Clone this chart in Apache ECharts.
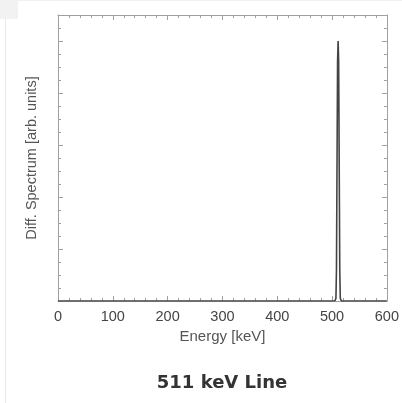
<!DOCTYPE html>
<html><head><meta charset="utf-8">
<script src="https://cdn.jsdelivr.net/npm/echarts@6/dist/echarts.min.js"></script>
<style>html,body{margin:0;padding:0;background:#fff}#c{width:402px;height:403px}</style>
</head><body><div id="c"></div>
<script>
const energy = [0, 100, 200, 300, 400, 500, 505, 507, 508, 509, 510, 511, 512, 513, 514, 515, 517, 520, 600];
const counts = [0, 0, 0, 0, 0, 0, 0, 0.05, 0.6, 2.6, 4.6, 5.0, 4.6, 2.6, 0.6, 0.05, 0, 0, 0];
const xTicks = [0, 100, 200, 300, 400, 500, 600];
const title = '511 keV Line';

const axisGray = '#a0a0a0';
const chart = echarts.init(document.getElementById('c'), null, {renderer: 'canvas'});
const tickCommon = {show: true, inside: true, length: 5, lineStyle: {color: axisGray, width: 1}};
const minorCommon = {show: true, length: 3, lineStyle: {color: axisGray, width: 1}};
const lineCommon = {show: true, onZero: false, lineStyle: {color: axisGray, width: 1}};
chart.setOption({
  animation: false,
  backgroundColor: '#fff',
  title: {
    text: title, left: 217, top: 369, textAlign: 'center',
    textStyle: {fontFamily: 'DejaVu Sans', fontWeight: 'bold', fontSize: 18, color: '#333'}
  },
  graphic: [
    {type: 'rect', shape: {x: 0, y: 0, width: 18, height: 19}, style: {fill: '#f2f2f2'}, silent: true},
    {type: 'line', shape: {x1: 5.5, y1: 19, x2: 5.5, y2: 403}, style: {stroke: '#e8e8e8', lineWidth: 1}, silent: true},
    {type: 'line', shape: {x1: 18, y1: 0.5, x2: 402, y2: 0.5}, style: {stroke: '#f0f0f0', lineWidth: 1}, silent: true}
  ],
  grid: {left: 58, right: 13, top: 15, bottom: 102},
  xAxis: [{
    type: 'value', min: 0, max: 600, interval: 100, position: 'bottom',
    axisLine: lineCommon,
    axisTick: tickCommon, minorTick: Object.assign({splitNumber: 5}, minorCommon),
    splitLine: {show: false},
    axisLabel: {show: true, margin: 8, fontFamily: 'Liberation Sans', fontSize: 14.5, color: '#444',
      formatter: v => xTicks.includes(v) ? String(v) : ''},
    name: 'Energy [keV]', nameLocation: 'middle', nameGap: 25,
    nameTextStyle: {fontFamily: 'Liberation Sans', fontSize: 15, color: '#555'}
  }, {
    type: 'value', min: 0, max: 600, interval: 100, position: 'top',
    axisLine: lineCommon,
    axisTick: tickCommon, minorTick: Object.assign({splitNumber: 5}, minorCommon),
    splitLine: {show: false}, axisLabel: {show: false}
  }],
  yAxis: [{
    type: 'value', min: 0, max: 5.5, interval: 1, position: 'left',
    axisLine: lineCommon,
    axisTick: tickCommon, minorTick: Object.assign({splitNumber: 4}, minorCommon),
    splitLine: {show: false}, axisLabel: {show: false},
    name: 'Diff. Spectrum [arb. units]', nameLocation: 'middle', nameGap: 19, nameRotate: 90,
    nameTextStyle: {fontFamily: 'Liberation Sans', fontSize: 14.5, color: '#555'}
  }, {
    type: 'value', min: 0, max: 5.5, interval: 1, position: 'right',
    axisLine: lineCommon,
    axisTick: tickCommon, minorTick: Object.assign({splitNumber: 4}, minorCommon),
    splitLine: {show: false}, axisLabel: {show: false}
  }],
  series: [{
    type: 'line', xAxisIndex: 0, yAxisIndex: 0,
    data: energy.map((e, i) => [e, counts[i]]),
    showSymbol: false, symbol: 'none',
    lineStyle: {color: '#444', width: 1.6}
  }]
});
</script></body></html>
